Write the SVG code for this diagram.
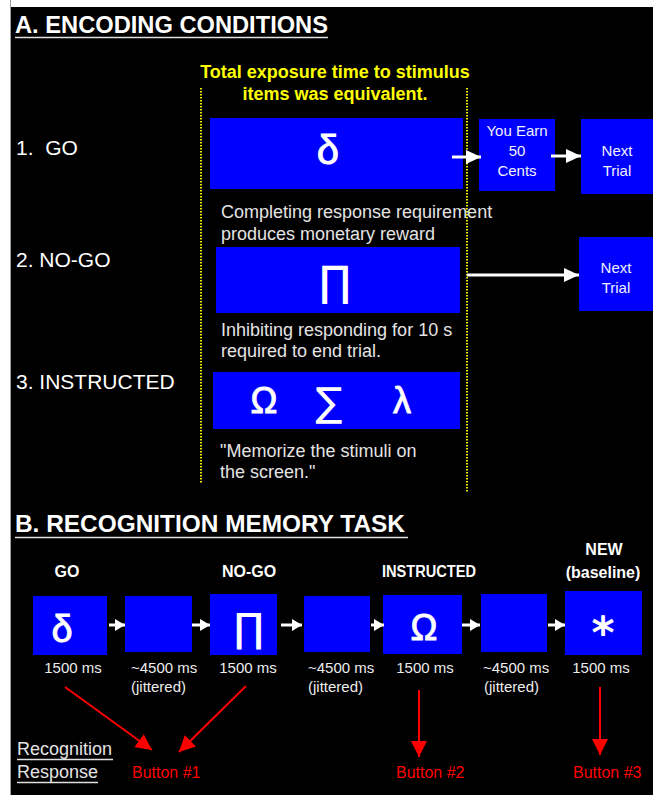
<svg xmlns="http://www.w3.org/2000/svg" width="653" height="795" viewBox="0 0 653 795">
<defs>
<marker id="wa" markerUnits="userSpaceOnUse" markerWidth="16" markerHeight="14" refX="15" refY="7" orient="auto"><path d="M0,0 L15,7 L0,14 z" fill="#ffffff"/></marker>
<marker id="wb" markerUnits="userSpaceOnUse" markerWidth="11" markerHeight="12" refX="10" refY="6" orient="auto"><path d="M0,0 L10,6 L0,12 z" fill="#ffffff"/></marker>
<marker id="ra" markerUnits="userSpaceOnUse" markerWidth="17" markerHeight="16" refX="16" refY="8" orient="auto"><path d="M0,0 L16,8 L0,16 z" fill="#ff0000"/></marker>
</defs>
<style>
text{font-family:"Liberation Sans",Arial,sans-serif}
.h{font-size:24px;font-weight:bold;fill:#ffffff}
.y{font-size:18px;font-weight:bold;fill:#ffff00;text-anchor:middle}
.lab{font-size:21px;fill:#ffffff;white-space:pre}
.d{font-size:18px;fill:#e4e4e4}
.bx{fill:#0000ff}
.bt{font-size:15px;fill:#f0f0ff;text-anchor:middle}
.sym{fill:#ffffff;text-anchor:middle;font-family:"DejaVu Sans","Liberation Sans",sans-serif}
.g{fill:#ffffff;text-anchor:middle;font-family:"Liberation Sans",Arial,sans-serif;stroke:#ffffff;stroke-width:0.9}
.bl{font-size:16px;font-weight:bold;fill:#ffffff;text-anchor:middle}
.ms{font-size:15px;fill:#ececec}
.c{text-anchor:middle}
.red{font-size:16px;fill:#ff0000}
.ul{stroke:#e0e0e0;stroke-width:1.5}
.dot{stroke:#e8e800;stroke-width:2;stroke-dasharray:1.5 1.5}
.wl{stroke:#ffffff;stroke-width:3;fill:none}
.rl{stroke:#ff0000;stroke-width:2;fill:none}
</style>
<rect x="0" y="0" width="653" height="795" fill="#ffffff"/>
<rect x="11" y="7" width="642" height="788" fill="#000000"/>
<line x1="10.5" y1="0" x2="10.5" y2="795" stroke="#a0a0a0" stroke-width="1"/>

<g id="titleA">
<text class="h" x="15" y="33" textLength="313" lengthAdjust="spacingAndGlyphs">A. ENCODING CONDITIONS</text>
<line class="ul" x1="15" y1="37.5" x2="328" y2="37.5"/>
</g>
<g id="note">
<text class="y" x="335" y="78">Total exposure time to stimulus</text>
<text class="y" x="335" y="100">items was equivalent.</text>
<line class="dot" x1="201" y1="88" x2="201" y2="483"/>
<line class="dot" x1="467" y1="88" x2="467" y2="493"/>
</g>
<g id="labelsA">
<text class="lab" x="16" y="155">1.  GO</text>
<text class="lab" x="16" y="267">2. NO-GO</text>
<text class="lab" x="16" y="389">3. INSTRUCTED</text>
</g>
<g id="goBox">
<rect class="bx" x="210" y="118" width="253" height="71"/>
<text class="g" x="328" y="164" font-size="40">δ</text>
<text class="d" x="221" y="218">Completing response requirement</text>
<text class="d" x="221" y="240">produces monetary reward</text>
</g>
<g id="earn">
<rect class="bx" x="479" y="119" width="76" height="72"/>
<text class="bt" x="517" y="136">You Earn</text>
<text class="bt" x="517" y="156">50</text>
<text class="bt" x="517" y="176">Cents</text>
</g>
<g id="next1">
<rect class="bx" x="581" y="119" width="72" height="75"/>
<text class="bt" x="617" y="156">Next</text>
<text class="bt" x="617" y="176">Trial</text>
</g>
<g id="nogoBox">
<rect class="bx" x="216" y="247" width="244" height="66"/>
<text class="sym" x="335" y="296" font-size="42">∏</text>
<text class="d" x="221" y="336">Inhibiting responding for 10 s</text>
<text class="d" x="221" y="357">required to end trial.</text>
</g>
<g id="next2">
<rect class="bx" x="579" y="237" width="74" height="74"/>
<text class="bt" x="616" y="273">Next</text>
<text class="bt" x="616" y="293">Trial</text>
</g>
<g id="instrBox">
<rect class="bx" x="213" y="372" width="247" height="57"/>
<text class="g" x="264" y="413" font-size="36">Ω</text>
<text class="sym" x="329" y="416" font-size="40">∑</text>
<text class="g" x="402" y="413" font-size="36">λ</text>
<text class="d" x="220" y="457">"Memorize the stimuli on</text>
<text class="d" x="220" y="478">the screen."</text>
</g>

<g id="titleB">
<text class="h" x="15" y="532" textLength="390" lengthAdjust="spacingAndGlyphs">B. RECOGNITION MEMORY TASK</text>
<line class="ul" x1="15" y1="537.5" x2="408" y2="537.5"/>
</g>
<g id="labelsB">
<text class="bl" x="67" y="577">GO</text>
<text class="bl" x="249" y="577">NO-GO</text>
<text class="bl" x="429" y="577" textLength="94" lengthAdjust="spacingAndGlyphs">INSTRUCTED</text>
<text class="bl" x="604" y="555">NEW</text>
<text class="bl" x="603" y="578">(baseline)</text>
</g>
<g id="b1">
<rect class="bx" x="33" y="596" width="74" height="59"/>
<text class="g" x="62" y="642" font-size="38">δ</text>
<text class="ms c" x="73" y="673">1500 ms</text>
</g>
<g id="b2">
<rect class="bx" x="125" y="596" width="67" height="56"/>
<text class="ms" x="131" y="673">~4500 ms</text>
<text class="ms" x="131" y="692">(jittered)</text>
</g>
<g id="b3">
<rect class="bx" x="210" y="594" width="67" height="61"/>
<text class="sym" x="249" y="642" font-size="40">∏</text>
<text class="ms c" x="248" y="673">1500 ms</text>
</g>
<g id="b4">
<rect class="bx" x="304" y="596" width="66" height="56"/>
<text class="ms" x="308" y="673">~4500 ms</text>
<text class="ms" x="308" y="692">(jittered)</text>
</g>
<g id="b5">
<rect class="bx" x="383" y="595" width="79" height="59"/>
<text class="g" x="424" y="640" font-size="36">Ω</text>
<text class="ms c" x="425" y="673">1500 ms</text>
</g>
<g id="b6">
<rect class="bx" x="481" y="594" width="66" height="58"/>
<text class="ms" x="483" y="673">~4500 ms</text>
<text class="ms" x="484" y="692">(jittered)</text>
</g>
<g id="b7">
<rect class="bx" x="565" y="591" width="77" height="64"/>
<text class="sym" x="603" y="648" font-size="44" font-weight="bold">*</text>
<text class="ms c" x="601" y="673">1500 ms</text>
</g>
<g id="response">
<text x="17" y="755" font-size="18" fill="#e4e4e4">Recognition</text>
<line class="ul" x1="17" y1="759.5" x2="113" y2="759.5"/>
<text x="17" y="778" font-size="18" fill="#e4e4e4">Response</text>
<line class="ul" x1="17" y1="782.5" x2="98" y2="782.5"/>
<text class="red" x="132" y="778">Button #1</text>
<text class="red" x="396" y="778">Button #2</text>
<text class="red" x="573" y="778">Button #3</text>
</g>

<g id="connectors">
<line class="wl" x1="452" y1="157" x2="481" y2="157" marker-end="url(#wa)"/>
<line class="wl" x1="551" y1="156" x2="581" y2="156" marker-end="url(#wa)"/>
<line class="wl" x1="467" y1="275" x2="579" y2="275" stroke-width="2" marker-end="url(#wa)"/>
<line class="wl" x1="109" y1="625" x2="125" y2="625" marker-end="url(#wb)"/>
<line class="wl" x1="192" y1="625" x2="210" y2="625" marker-end="url(#wb)"/>
<line class="wl" x1="281" y1="625" x2="302" y2="625" marker-end="url(#wb)"/>
<line class="wl" x1="371" y1="625" x2="384" y2="625" marker-end="url(#wb)"/>
<line class="wl" x1="462" y1="625" x2="480" y2="625" marker-end="url(#wb)"/>
<line class="wl" x1="548" y1="625" x2="565" y2="625" marker-end="url(#wb)"/>
<line class="rl" x1="65" y1="687" x2="152" y2="750" marker-end="url(#ra)"/>
<line class="rl" x1="246" y1="686" x2="179" y2="752" marker-end="url(#ra)"/>
<line class="rl" x1="419" y1="690" x2="419" y2="757" marker-end="url(#ra)"/>
<line class="rl" x1="600" y1="687" x2="600" y2="755" marker-end="url(#ra)"/>
</g>
</svg>
